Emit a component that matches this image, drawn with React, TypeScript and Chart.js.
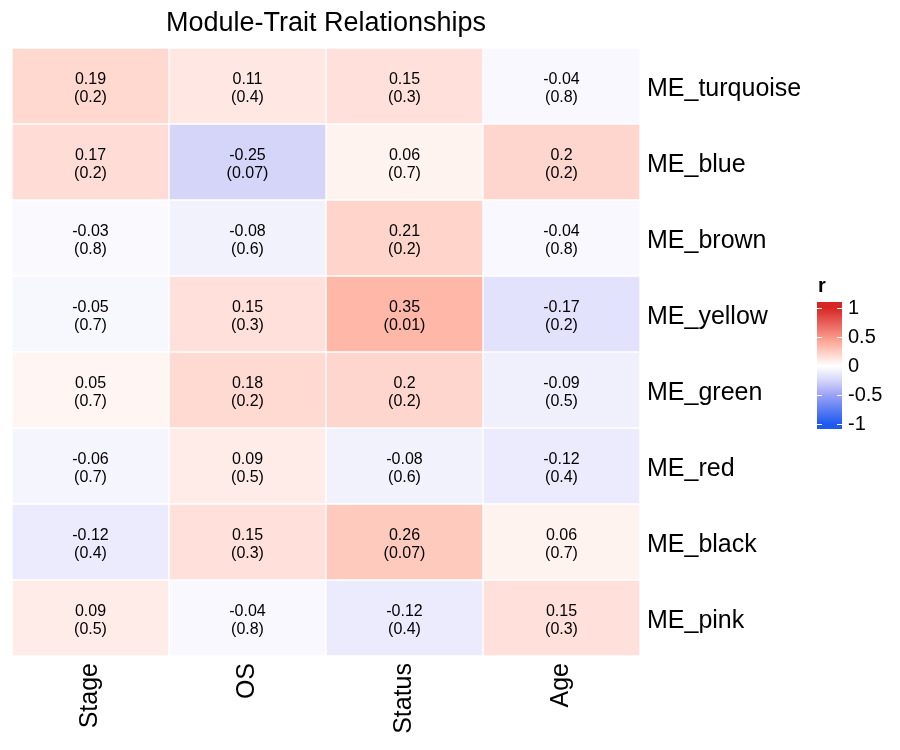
import { useEffect, useRef } from "react";
import { Chart, registerables } from "chart.js";

Chart.register(...registerables);

const traits = ["Stage", "OS", "Status", "Age"];
const modules = ["ME_turquoise", "ME_blue", "ME_brown", "ME_yellow", "ME_green", "ME_red", "ME_black", "ME_pink"];

const rTurquoise = [0.19, 0.11, 0.15, -0.04];
const rBlue = [0.17, -0.25, 0.06, 0.2];
const rBrown = [-0.03, -0.08, 0.21, -0.04];
const rYellow = [-0.05, 0.15, 0.35, -0.17];
const rGreen = [0.05, 0.18, 0.2, -0.09];
const rRed = [-0.06, 0.09, -0.08, -0.12];
const rBlack = [-0.12, 0.15, 0.26, 0.06];
const rPink = [0.09, -0.04, -0.12, 0.15];

const pTurquoise = ["0.2", "0.4", "0.3", "0.8"];
const pBlue = ["0.2", "0.07", "0.7", "0.2"];
const pBrown = ["0.8", "0.6", "0.2", "0.8"];
const pYellow = ["0.7", "0.3", "0.01", "0.2"];
const pGreen = ["0.7", "0.2", "0.2", "0.5"];
const pRed = ["0.7", "0.5", "0.6", "0.4"];
const pBlack = ["0.4", "0.3", "0.07", "0.7"];
const pPink = ["0.5", "0.8", "0.4", "0.3"];

const rRows = [rTurquoise, rBlue, rBrown, rYellow, rGreen, rRed, rBlack, rPink];
const pRows = [pTurquoise, pBlue, pBrown, pYellow, pGreen, pRed, pBlack, pPink];

const legendTicks = [1, 0.5, 0, -0.5, -1];

const colorStops: [number, number[]][] = [
  [-1, [30, 90, 240]],
  [-0.5, [155, 162, 246]],
  [-0.25, [213, 213, 250]],
  [0, [255, 255, 255]],
  [0.35, [255, 183, 168]],
  [0.5, [248, 150, 136]],
  [1, [215, 38, 38]],
];

function colorFor(v: number): string {
  const x = Math.max(-1, Math.min(1, v));
  for (let i = 0; i < colorStops.length - 1; i++) {
    const [a, ca] = colorStops[i];
    const [b, cb] = colorStops[i + 1];
    if (x >= a && x <= b) {
      const t = (x - a) / (b - a);
      const c = ca.map((c0, k) => Math.round(c0 + (cb[k] - c0) * t));
      return `rgb(${c[0]},${c[1]},${c[2]})`;
    }
  }
  return "white";
}

const FONT = "'Liberation Sans', Arial, Helvetica, sans-serif";

const cellTextPlugin = {
  id: "cellText",
  afterDatasetsDraw(chart: any) {
    const ctx = chart.ctx;
    ctx.save();
    ctx.fillStyle = "#000";
    ctx.font = `16px ${FONT}`;
    ctx.textAlign = "center";
    ctx.textBaseline = "middle";
    chart.data.datasets.forEach((ds: any, di: number) => {
      const meta = chart.getDatasetMeta(di);
      meta.data.forEach((el: any, j: number) => {
        const { x, y, base } = el.getProps(["x", "y", "base"], true);
        const cy = (y + base) / 2;
        ctx.fillText(String(ds.rVals[j]), x, cy - 6);
        ctx.fillText(`(${ds.pVals[j]})`, x, cy + 12);
      });
    });
    ctx.restore();
  },
};

const titleLegendPlugin = {
  id: "titleLegend",
  afterDraw(chart: any) {
    const ctx = chart.ctx;
    const area = chart.chartArea;
    ctx.save();
    // title
    ctx.fillStyle = "#000";
    ctx.font = `27px ${FONT}`;
    ctx.textAlign = "center";
    ctx.textBaseline = "alphabetic";
    ctx.fillText("Module-Trait Relationships", (area.left + area.right) / 2, 31);

    // colour bar legend
    const bx = 817, bw = 25, top = 302, bottom = 429;
    const yHi = 308, yLo = 424;
    const vToY = (v: number) => yLo + ((v + 1) / 2) * (yHi - yLo);
    const yToV = (y: number) => -1 + ((y - yLo) / (yHi - yLo)) * 2;
    for (let y = top; y < bottom; y++) {
      ctx.fillStyle = colorFor(yToV(y + 0.5));
      ctx.fillRect(bx, y, bw, 1);
    }
    ctx.strokeStyle = "#fff";
    ctx.lineWidth = 1;
    legendTicks.forEach((v) => {
      const y = Math.round(vToY(v)) + 0.5;
      ctx.beginPath();
      ctx.moveTo(bx, y);
      ctx.lineTo(bx + 5, y);
      ctx.moveTo(bx + bw - 5, y);
      ctx.lineTo(bx + bw, y);
      ctx.stroke();
    });
    ctx.fillStyle = "#000";
    ctx.font = `20px ${FONT}`;
    ctx.textAlign = "left";
    ctx.textBaseline = "middle";
    legendTicks.forEach((v) => {
      ctx.fillText(String(v), 848, vToY(v));
    });
    ctx.font = `bold 20px ${FONT}`;
    ctx.textBaseline = "alphabetic";
    ctx.fillText("r", 818, 292);
    ctx.restore();
  },
};

export default function App() {
  const ref = useRef<HTMLCanvasElement | null>(null);

  useEffect(() => {
    if (!ref.current) return;
    const datasets = modules
      .map((name, i) => ({
        label: name,
        data: traits.map(() => 1),
        rVals: rRows[i],
        pVals: pRows[i],
        backgroundColor: rRows[i].map((v) => colorFor(v)),
        borderColor: "#ffffff",
        borderWidth: 1,
        borderSkipped: false,
        barPercentage: 1,
        categoryPercentage: 1,
        stack: "s",
      }))
      .reverse();

    const chart = new Chart(ref.current, {
      type: "bar",
      data: { labels: traits, datasets: datasets as any },
      options: {
        animation: false,
        responsive: false,
        devicePixelRatio: 1,
        layout: { padding: { left: 12, top: 48, right: 0, bottom: 0 } },
        plugins: {
          legend: { display: false },
          tooltip: { enabled: false },
          title: { display: false },
        },
        scales: {
          x: {
            type: "category",
            stacked: true,
            grid: { display: false, drawTicks: false },
            border: { display: false },
            ticks: {
              color: "#000",
              font: { family: FONT, size: 25 },
              minRotation: 90,
              maxRotation: 90,
              padding: 7,
            },
            afterFit: (s: any) => {
              s.height = 94;
            },
          },
          y: {
            type: "linear",
            stacked: true,
            min: 0,
            max: modules.length,
            display: false,
          },
          yr: {
            type: "category",
            position: "right",
            labels: modules,
            offset: true,
            grid: { display: false, drawTicks: false },
            border: { display: false },
            ticks: {
              color: "#000",
              font: { family: FONT, size: 25 },
              padding: 7,
              labelOffset: 3,
            },
            afterFit: (s: any) => {
              s.width = 260;
            },
          },
        } as any,
      },
      plugins: [cellTextPlugin, titleLegendPlugin],
    });
    return () => chart.destroy();
  }, []);

  return (
    <div style={{ position: "absolute", left: 0, top: 0, width: 900, height: 750, background: "#fff" }}>
      <canvas ref={ref} width={900} height={750} style={{ display: "block" }} />
    </div>
  );
}
